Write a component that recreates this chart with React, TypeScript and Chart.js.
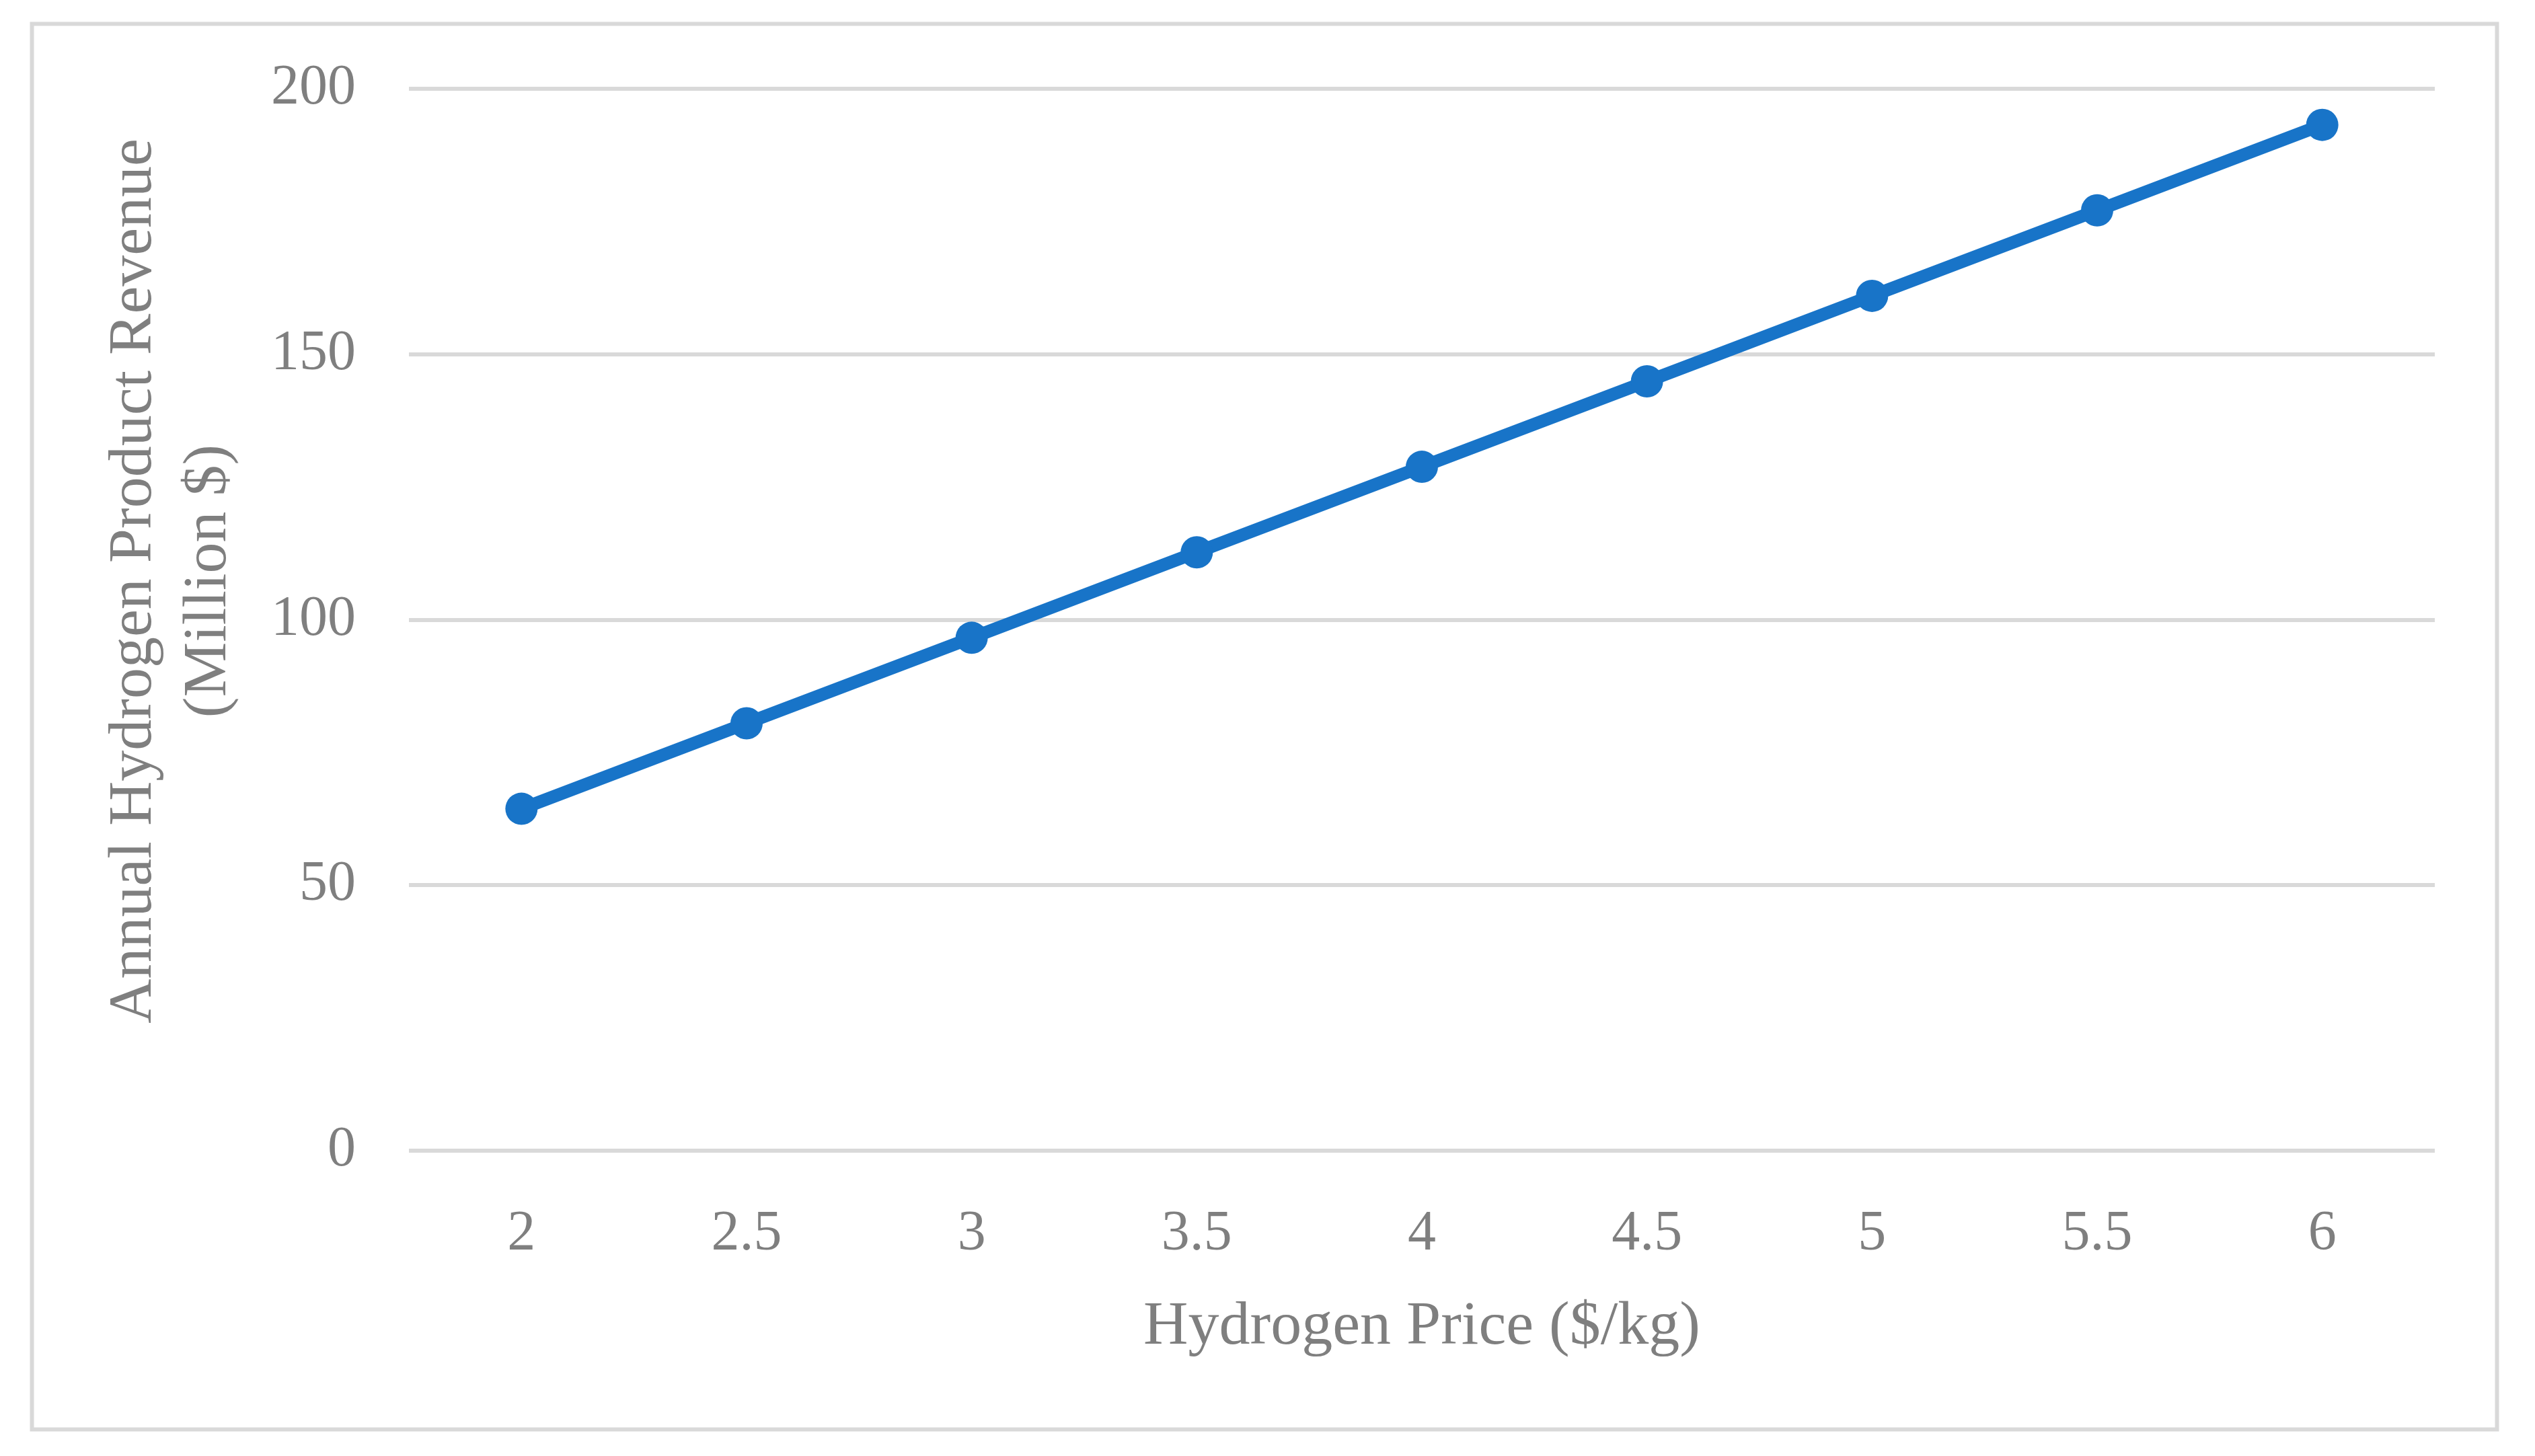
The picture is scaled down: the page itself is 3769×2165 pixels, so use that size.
import { useEffect, useRef } from "react";
import { Chart, registerables } from "chart.js";

Chart.register(...registerables);

const priceLabels = ["2", "2.5", "3", "3.5", "4", "4.5", "5", "5.5", "6"];
const revenueValues = [64.4, 80.5, 96.6, 112.7, 128.8, 144.9, 161.0, 177.1, 193.2];
const yMin = 0;
const yMax = 200;
const yStep = 50;
const xTitle = "Hydrogen Price ($/kg)";
const yTitleLines = ["Annual Hydrogen Product Revenue", "(Million $)"];

const W = 3769;
const H = 2165;
const FONT = '"Liberation Serif", "Times New Roman", serif';
const TEXT_COLOR = "#7f7f7f";
const GRID_COLOR = "#d9d9d9";
const LINE_COLOR = "#1874c8";

const framePlugin = {
  id: "frameAndTitles",
  beforeDraw(chart: any) {
    const ctx = chart.ctx;
    ctx.save();
    ctx.fillStyle = "#ffffff";
    ctx.fillRect(0, 0, chart.width, chart.height);
    ctx.strokeStyle = GRID_COLOR;
    ctx.lineWidth = 6;
    ctx.strokeRect(47.5, 35.5, 3665, 2090);
    ctx.restore();
  },
  afterDraw(chart: any) {
    const ctx = chart.ctx;
    const area = chart.chartArea;
    ctx.save();
    ctx.fillStyle = TEXT_COLOR;
    ctx.font = `92px ${FONT}`;
    ctx.textAlign = "center";
    ctx.textBaseline = "middle";
    ctx.fillText(xTitle, (area.left + area.right) / 2, 1974);
    const cy = 864;
    const xs = [200, 311];
    yTitleLines.forEach((line, i) => {
      ctx.save();
      ctx.translate(xs[i], cy);
      ctx.rotate(-Math.PI / 2);
      ctx.fillText(line, 0, 0);
      ctx.restore();
    });
    ctx.restore();
  },
};

export default function App() {
  const canvasRef = useRef<HTMLCanvasElement | null>(null);

  useEffect(() => {
    const canvas = canvasRef.current;
    if (!canvas) return;
    const chart = new Chart(canvas, {
      type: "line",
      data: {
        labels: priceLabels,
        datasets: [
          {
            label: "Annual Hydrogen Product Revenue",
            data: revenueValues,
            borderColor: LINE_COLOR,
            backgroundColor: LINE_COLOR,
            borderWidth: 19,
            pointRadius: 24,
            pointBorderWidth: 0,
            pointBackgroundColor: LINE_COLOR,
            tension: 0,
            fill: false,
          },
        ],
      },
      options: {
        responsive: false,
        animation: false,
        devicePixelRatio: 1,
        layout: { padding: { left: 0, top: 132, right: 149, bottom: 0 } },
        plugins: {
          legend: { display: false },
          tooltip: { enabled: false },
          title: { display: false },
        },
        scales: {
          x: {
            type: "category",
            offset: true,
            grid: { display: false, drawTicks: false },
            border: { display: false },
            ticks: {
              color: TEXT_COLOR,
              font: { family: FONT, size: 84 },
              padding: 75,
              maxRotation: 0,
              autoSkip: false,
            },
            afterFit(scale: any) {
              scale.height = 454;
            },
          },
          y: {
            min: yMin,
            max: yMax,
            grid: { color: GRID_COLOR, lineWidth: 6, drawTicks: false },
            border: { display: false },
            ticks: {
              stepSize: yStep,
              color: TEXT_COLOR,
              font: { family: FONT, size: 84 },
              padding: 79,
            },
            afterFit(scale: any) {
              scale.width = 608;
            },
          },
        },
      },
      plugins: [framePlugin],
    });
    return () => chart.destroy();
  }, []);

  return (
    <div style={{ position: "fixed", left: 0, top: 0, width: W, height: H, background: "#fff" }}>
      <canvas ref={canvasRef} width={W} height={H} style={{ display: "block" }} />
    </div>
  );
}
